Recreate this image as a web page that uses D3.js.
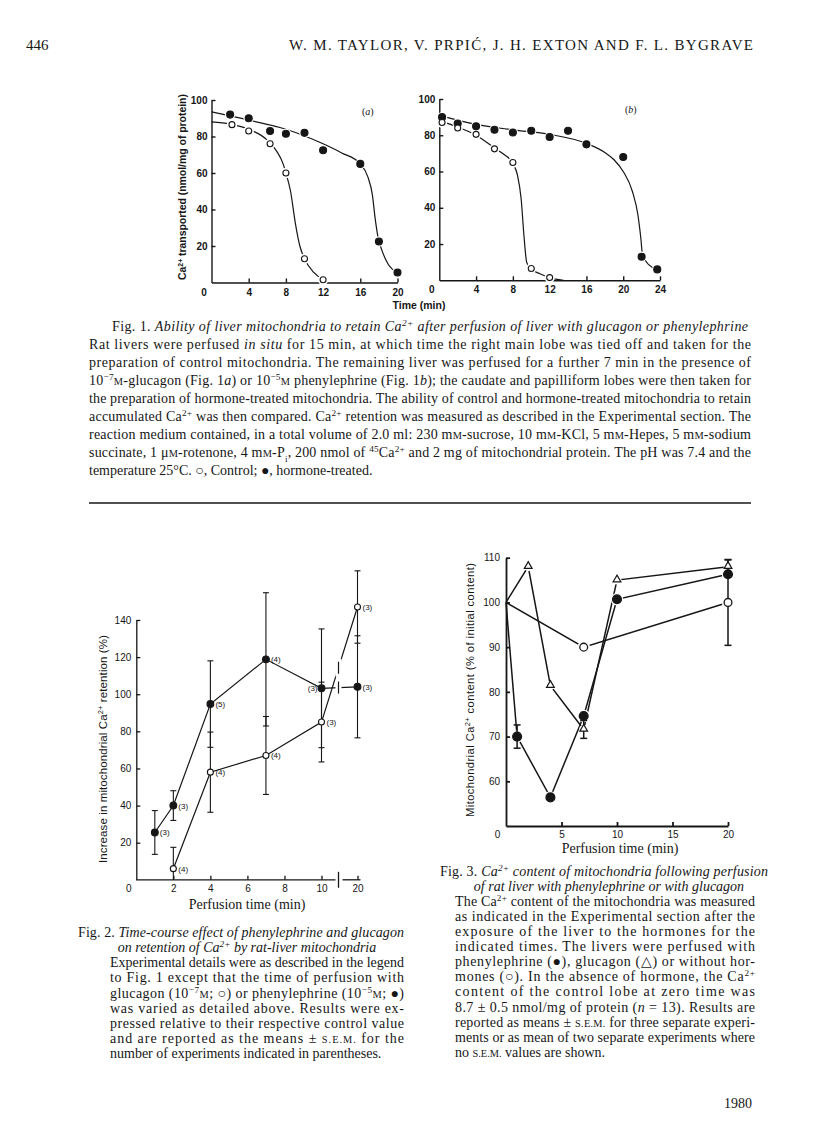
<!DOCTYPE html>
<html>
<head>
<meta charset="utf-8">
<script src="https://cdn.jsdelivr.net/npm/d3@7"></script>
<style>
  body { margin: 0; background: #fff; }
  svg { display: block; }
</style>
</head>
<body>
<svg id="page" width="816" height="1145"></svg>
<script>
// ---------- data ----------
// Fig. 1a (glucagon)
var fig1aHormoneT = [2, 4, 6.3, 8, 10, 12, 16, 18, 20];
var fig1aHormoneV = [92, 90, 83, 81.5, 82, 72.5, 65, 22.5, 5.5];
var fig1aControlT = [2.2, 4, 6.3, 8, 10, 12];
var fig1aControlV = [86.5, 83, 76, 60, 13, 1.5];
// hand-drawn fitted curves in fig 1a
var fig1aHormoneCurveT = [0, 4, 8, 12, 14, 16, 16.8, 17.3, 17.6, 17.9, 18.3, 19, 20];
var fig1aHormoneCurveV = [93.5, 89, 84, 76, 71, 65, 58, 48, 35, 25, 18, 10, 5.5];
var fig1aControlCurveT = [0, 2, 4, 6, 7, 7.7, 8, 8.5, 9, 9.5, 10, 11, 12];
var fig1aControlCurveV = [88, 86.8, 84, 78, 72, 65, 60, 50, 33, 20, 13, 5.5, 1.5];

// Fig. 1b (phenylephrine)
var fig1bHormoneT = [0.3, 2, 4, 6, 8, 10, 12, 14, 16, 20, 22, 23.7];
var fig1bHormoneV = [90, 86.5, 85, 83, 81.5, 82.5, 79, 82.5, 75, 68, 13, 6];
var fig1bControlT = [0.3, 2, 4, 6, 8, 10, 12];
var fig1bControlV = [87, 84, 80.5, 72.5, 65, 6.5, 1.5];
var fig1bHormoneCurveT = [0, 4, 8, 12, 16, 18, 19, 20, 21, 21.6, 21.9, 22.1, 22.8, 23.7];
var fig1bHormoneCurveV = [91, 86, 83, 80.5, 75.5, 70.5, 66.5, 60, 49, 36, 24, 14, 8.5, 6];
var fig1bControlCurveT = [0.3, 2, 4, 6, 7, 8, 8.5, 8.9, 9.2, 9.5, 9.9, 11, 12, 13.5];
var fig1bControlCurveV = [87.5, 84.5, 80, 73, 69.5, 64.5, 58, 45, 25, 10, 6.5, 3.5, 1.5, 0];

var fig1YTicks = [20, 40, 60, 80, 100];
var fig1aXTicks = [0, 4, 8, 12, 16, 20];
var fig1bXTicks = [0, 4, 8, 12, 16, 20, 24];

// Fig. 2
var fig2PheT = [1, 2, 4, 7, 10, 20];
var fig2PheV = [25.5, 40, 94.7, 118.8, 103.2, 104];
var fig2PheSem = [11.8, 8, 23.3, 35.9, 32, 27.5];
var fig2PheN = ["(3)", "(3)", "(5)", "(4)", "(3)", "(3)"];
var fig2GluT = [2, 4, 7, 10, 20];
var fig2GluV = [6, 58, 67, 85, 147];
var fig2GluSem = [11.5, 21.6, 21, 21.5, 19.5];
var fig2GluN = ["(4)", "(4)", "(4)", "(3)", "(3)"];
var fig2XTicks = [0, 2, 4, 6, 8, 10, 20];
var fig2YTicks = [20, 40, 60, 80, 100, 120, 140];

// Fig. 3
var fig3PheT = [0, 1, 4, 7, 10, 20];
var fig3PheV = [100, 70, 56.4, 74.6, 100.7, 106.3];
var fig3PheSem = [0, 2.6, 0, 0, 0, 0];
var fig3GluT = [0, 2, 4, 7, 10, 20];
var fig3GluV = [100, 108, 81.4, 71.6, 105, 108];
var fig3GluSem = [0, 0, 0, 2, 0, 1.5];
var fig3CtlT = [0, 7, 20];
var fig3CtlV = [100, 90, 100];
var fig3CtlSem = [0, 0, 9.6];
var fig3XTicks = [0, 5, 10, 15, 20];
var fig3YTicks = [60, 70, 80, 90, 100, 110];

// ---------- page text ----------
// markup: _italic_  ^superscript^  ~subscript~  |small caps|
var headerText = "W. M. TAYLOR, V. PRPIĆ, J. H. EXTON AND F. L. BYGRAVE";
var fig1Caption = [
  "Fig. 1. _Ability of liver mitochondria to retain Ca^2+^ after perfusion of liver with glucagon or phenylephrine_",
  "Rat livers were perfused _in situ_ for 15 min, at which time the right main lobe was tied off and taken for the",
  "preparation of control mitochondria. The remaining liver was perfused for a further 7 min in the presence of",
  "10^−7^|M|-glucagon (Fig. 1_a_) or 10^−5^|M| phenylephrine (Fig. 1_b_); the caudate and papilliform lobes were then taken for",
  "the preparation of hormone-treated mitochondria. The ability of control and hormone-treated mitochondria to retain",
  "accumulated Ca^2+^ was then compared. Ca^2+^ retention was measured as described in the Experimental section. The",
  "reaction medium contained, in a total volume of 2.0 ml: 230 m|M|-sucrose, 10 m|M|-KCl, 5 m|M|-Hepes, 5 m|M|-sodium",
  "succinate, 1 μ|M|-rotenone, 4 m|M|-P~i~, 200 nmol of ^45^Ca^2+^ and 2 mg of mitochondrial protein. The pH was 7.4 and the",
  "temperature 25°C. ○, Control; ●, hormone-treated."
];
var fig2Title = ["Fig. 2. _Time-course effect of phenylephrine and glucagon_",
  "_on retention of Ca^2+^ by rat-liver mitochondria_"];
var fig2Body = [
  "Experimental details were as described in the legend",
  "to Fig. 1 except that the time of perfusion with",
  "glucagon (10^−7^|M|; ○) or phenylephrine (10^−5^|M|; ●)",
  "was varied as detailed above. Results were ex-",
  "pressed relative to their respective control value",
  "and are reported as the means ± |S.E.M.| for the",
  "number of experiments indicated in parentheses."
];
var fig3Title = ["Fig. 3. _Ca^2+^ content of mitochondria following perfusion_",
  "_of rat liver with phenylephrine or with glucagon_"];
var fig3Body = [
  "The Ca^2+^ content of the mitochondria was measured",
  "as indicated in the Experimental section after the",
  "exposure of the liver to the hormones for the",
  "indicated times. The livers were perfused with",
  "phenylephrine (●), glucagon (△) or without hor-",
  "mones (○). In the absence of hormone, the Ca^2+^",
  "content of the control lobe at zero time was",
  "8.7 ± 0.5 nmol/mg of protein (_n_ = 13). Results are",
  "reported as means ± |S.E.M.| for three separate experi-",
  "ments or as mean of two separate experiments where",
  "no |S.E.M.| values are shown."
];

// ---------- helpers ----------
var SERIF = "'Liberation Serif','Times New Roman',serif";
var SANS = "'Liberation Sans',Arial,Helvetica,sans-serif";
var INK = "#161616";
var svg = d3.select("#page");

function rich(parent, str, x, y, size, opts) {
  opts = opts || {};
  var t = parent.append("text")
    .attr("x", x).attr("y", y)
    .attr("fill", INK)
    .style("font-family", opts.family || SERIF)
    .style("font-size", size + "px");
  if (opts.weight) t.style("font-weight", opts.weight);
  if (opts.anchor) t.attr("text-anchor", opts.anchor);
  if (opts.width) t.attr("textLength", opts.width).attr("lengthAdjust", "spacing");
  if (opts.transform) t.attr("transform", opts.transform);
  var st = { i: false, sup: false, sub: false, sc: false };
  var buf = "";
  function flush() {
    if (!buf) return;
    var s = t.append("tspan").text(buf);
    if (st.i) s.style("font-style", "italic");
    if (st.sup) s.attr("baseline-shift", "super").style("font-size", (size * 0.66) + "px");
    if (st.sub) s.attr("baseline-shift", "sub").style("font-size", (size * 0.66) + "px");
    if (st.sc) s.style("font-size", (size * 0.74) + "px");
    buf = "";
  }
  var keys = { "_": "i", "^": "sup", "~": "sub", "|": "sc" };
  for (var ch of str) {
    if (keys[ch]) { flush(); st[keys[ch]] = !st[keys[ch]]; }
    else buf += ch;
  }
  flush();
  return t;
}

function styleAxis(a, size, weight, width) {
  a.select(".domain").attr("stroke", INK).attr("stroke-width", width);
  a.selectAll(".tick line").attr("stroke", INK).attr("stroke-width", width);
  a.selectAll(".tick text")
    .attr("fill", INK)
    .style("font-family", SANS)
    .style("font-size", size + "px")
    .style("font-weight", weight);
}

function zip(ts, vs) { return ts.map(function(t, i) { return [t, vs[i]]; }); }

// ---------- header ----------
rich(svg, "446", 26, 50, 15);
rich(svg, headerText, 289, 50, 15, { width: 464 });
rich(svg, "1980", 724, 1108, 14);

// ---------- Fig. 1 ----------
function drawFig1(p) {
  var x = d3.scaleLinear().domain([0, p.xMax]).range(p.xRange);
  var y = d3.scaleLinear().domain([0, 100]).range(p.yRange);
  var g = svg.append("g");

  var xa = g.append("g").attr("transform", "translate(0," + p.yRange[0] + ")")
    .call(d3.axisBottom(x).tickValues(p.xTicks).tickSizeInner(-4).tickSizeOuter(0).tickPadding(6));
  styleAxis(xa, 10, 700, 1.4);
  xa.selectAll(".tick").filter(function(d) { return d === 0; }).select("line").remove();
  xa.selectAll(".tick").filter(function(d) { return d === 0; }).select("text").attr("dx", -8);

  var ya = g.append("g").attr("transform", "translate(" + p.xRange[0] + ",0)")
    .call(d3.axisLeft(y).tickValues(fig1YTicks).tickSizeInner(-4).tickSizeOuter(0).tickPadding(4));
  styleAxis(ya, 10, 700, 1.4);

  var line = d3.line().x(function(d) { return x(d[0]); }).y(function(d) { return y(d[1]); })
    .curve(d3.curveMonotoneX);
  [p.hCurve, p.cCurve].forEach(function(c) {
    g.append("path").datum(c).attr("d", line)
      .attr("fill", "none").attr("stroke", INK).attr("stroke-width", 1.2);
  });

  var pts = p.hPts.map(function(d) { return { d: d, f: true }; })
    .concat(p.cPts.map(function(d) { return { d: d, f: false }; }));
  g.selectAll(null).data(pts).enter().append("circle")
    .attr("cx", function(o) { return x(o.d[0]); }).attr("cy", function(o) { return y(o.d[1]); })
    .attr("r", 5.2).attr("fill", "#fff");
  g.selectAll(null).data(pts).enter().append("circle")
    .attr("cx", function(o) { return x(o.d[0]); }).attr("cy", function(o) { return y(o.d[1]); })
    .attr("r", function(o) { return o.f ? 3.5 : 3; })
    .attr("fill", function(o) { return o.f ? INK : "#fff"; })
    .attr("stroke", INK).attr("stroke-width", 1.1);

  rich(g, p.tag, p.tagX, p.tagY, 10, { family: SERIF });
}

drawFig1({
  xMax: 20, xRange: [211.5, 397.5], yRange: [282.5, 100], xTicks: fig1aXTicks,
  hPts: zip(fig1aHormoneT, fig1aHormoneV), cPts: zip(fig1aControlT, fig1aControlV),
  hCurve: zip(fig1aHormoneCurveT, fig1aHormoneCurveV), cCurve: zip(fig1aControlCurveT, fig1aControlCurveV),
  tag: "(_a_)", tagX: 362, tagY: 115
});
drawFig1({
  xMax: 24, xRange: [439.3, 660], yRange: [280.3, 99], xTicks: fig1bXTicks,
  hPts: zip(fig1bHormoneT, fig1bHormoneV), cPts: zip(fig1bControlT, fig1bControlV),
  hCurve: zip(fig1bHormoneCurveT, fig1bHormoneCurveV), cCurve: zip(fig1bControlCurveT, fig1bControlCurveV),
  tag: "(_b_)", tagX: 625, tagY: 113
});
rich(svg, "Ca^2+^ transported (nmol/mg of protein)", 0, 0, 10.5,
  { family: SANS, weight: 700, anchor: "middle", width: 186, transform: "translate(186,187) rotate(-90)" });
rich(svg, "Time (min)", 419, 309, 10.5, { family: SANS, weight: 700, anchor: "middle" });

// Fig. 1 caption
fig1Caption.forEach(function(s, i) {
  var y = 331 + i * 18;
  if (i === 0) rich(svg, s, 112, y, 14, { width: 636 });
  else if (i === fig1Caption.length - 1) rich(svg, s, 89, y, 14);
  else rich(svg, s, 89, y, 14, { width: 662 });
});

svg.append("line").attr("x1", 89).attr("x2", 751).attr("y1", 503).attr("y2", 503)
  .attr("stroke", INK).attr("stroke-width", 1.3);

// ---------- Fig. 2 ----------
(function() {
  var x = d3.scaleLinear().domain([0, 10, 20]).range([136.3, 321.5, 357.5]);
  var y = d3.scaleLinear().domain([0, 140]).range([879.8, 620]);
  var g = svg.append("g");
  var y0 = y(0);

  var xa = g.append("g").attr("transform", "translate(0," + y0 + ")")
    .call(d3.axisBottom(x).tickValues(fig2XTicks).tickSizeInner(-4).tickSizeOuter(0).tickPadding(5));
  styleAxis(xa, 10, 400, 1.3);
  xa.select(".domain").remove();
  xa.selectAll(".tick").filter(function(d) { return d === 0; }).select("line").remove();
  xa.selectAll(".tick").filter(function(d) { return d === 0; }).select("text").attr("dx", -8);
  var bx = x(10) + 17;
  g.append("line").attr("x1", x(0)).attr("x2", bx - 3).attr("y1", y0).attr("y2", y0)
    .attr("stroke", INK).attr("stroke-width", 1.3);
  g.append("line").attr("x1", bx + 4).attr("x2", x(20) + 3).attr("y1", y0).attr("y2", y0)
    .attr("stroke", INK).attr("stroke-width", 1.3);
  g.append("line").attr("x1", bx).attr("x2", bx).attr("y1", y0 - 8).attr("y2", y0 + 8)
    .attr("stroke", INK).attr("stroke-width", 1.3);

  var ya = g.append("g").attr("transform", "translate(" + x(0) + ",0)")
    .call(d3.axisLeft(y).tickValues(fig2YTicks).tickSizeInner(-4).tickSizeOuter(0).tickPadding(5));
  styleAxis(ya, 10, 400, 1.3);

  var series = [
    { t: fig2PheT, v: fig2PheV, e: fig2PheSem, n: fig2PheN, f: true },
    { t: fig2GluT, v: fig2GluV, e: fig2GluSem, n: fig2GluN, f: false }
  ];
  var line = d3.line().x(function(d) { return x(d[0]); }).y(function(d) { return y(d[1]); });

  series.forEach(function(s) {
    var pts = zip(s.t, s.v);
    g.append("path").datum(pts).attr("d", line)
      .attr("fill", "none").attr("stroke", INK).attr("stroke-width", 1.2);
    // scale-break mark on the segment 10 -> 20
    var a = pts[pts.length - 2], b = pts[pts.length - 1];
    var k = (bx - x(a[0])) / (x(b[0]) - x(a[0]));
    var by = y(a[1]) + k * (y(b[1]) - y(a[1]));
    g.append("rect").attr("x", bx - 3).attr("y", by - 9).attr("width", 6).attr("height", 18).attr("fill", "#fff");
    g.append("line").attr("x1", bx).attr("x2", bx).attr("y1", by - 6).attr("y2", by + 6)
      .attr("stroke", INK).attr("stroke-width", 1.2);

    s.t.forEach(function(t, i) {
      var top = y(s.v[i] + s.e[i]), bot = y(Math.max(0, s.v[i] - s.e[i]));
      g.append("line").attr("x1", x(t)).attr("x2", x(t)).attr("y1", top).attr("y2", bot)
        .attr("stroke", INK).attr("stroke-width", 1.1);
      g.append("line").attr("x1", x(t) - 3).attr("x2", x(t) + 3).attr("y1", top).attr("y2", top)
        .attr("stroke", INK).attr("stroke-width", 1.1);
      if (s.v[i] - s.e[i] > 0)
        g.append("line").attr("x1", x(t) - 3).attr("x2", x(t) + 3).attr("y1", bot).attr("y2", bot)
          .attr("stroke", INK).attr("stroke-width", 1.1);
    });
  });
  series.forEach(function(s) {
    s.t.forEach(function(t, i) {
      g.append("circle").attr("cx", x(t)).attr("cy", y(s.v[i])).attr("r", s.f ? 3.4 : 3)
        .attr("fill", s.f ? INK : "#fff").attr("stroke", INK).attr("stroke-width", 1.1);
      var left = s.f && t === 10;
      g.append("text").attr("x", left ? x(t) - 4 : x(t) + 5).attr("y", y(s.v[i]) + 3)
        .attr("text-anchor", left ? "end" : "start")
        .attr("fill", INK).style("font-family", SANS).style("font-size", "8px").text(s.n[i]);
    });
  });

  rich(svg, "Increase in mitochondrial Ca^2+^ retention (%)", 0, 0, 11.5,
    { family: SANS, anchor: "middle", width: 228, transform: "translate(107,749) rotate(-90)" });
  rich(svg, "Perfusion time (min)", 247, 909, 14, { anchor: "middle" });
})();

// Fig. 2 caption
rich(svg, fig2Title[0], 78, 937, 14, { width: 326 });
rich(svg, fig2Title[1], 247, 952, 14, { anchor: "middle" });
fig2Body.forEach(function(s, i) {
  var y = 967.3 + i * 15.1;
  rich(svg, s, 110, y, 14, i === fig2Body.length - 1 ? {} : { width: 294 });
});

// ---------- Fig. 3 ----------
(function() {
  var x = d3.scaleLinear().domain([0, 20]).range([506, 728]);
  var y = d3.scaleLinear().domain([50, 110]).range([826, 557.7]);
  var g = svg.append("g");

  var xa = g.append("g").attr("transform", "translate(0," + y(50) + ")")
    .call(d3.axisBottom(x).tickValues(fig3XTicks).tickSizeInner(-4).tickSizeOuter(0).tickPadding(5));
  styleAxis(xa, 10, 400, 1.8);
  xa.selectAll(".tick").filter(function(d) { return d === 0; }).select("line").remove();
  xa.selectAll(".tick").filter(function(d) { return d === 0; }).select("text").attr("dx", -9);

  var ya = g.append("g").attr("transform", "translate(" + x(0) + ",0)")
    .call(d3.axisLeft(y).tickValues(fig3YTicks).tickSizeInner(-4).tickSizeOuter(0).tickPadding(6));
  styleAxis(ya, 10, 400, 1.8);

  var series = [
    { t: fig3CtlT, v: fig3CtlV, e: fig3CtlSem, m: "open" },
    { t: fig3GluT, v: fig3GluV, e: fig3GluSem, m: "tri" },
    { t: fig3PheT, v: fig3PheV, e: fig3PheSem, m: "fill" }
  ];
  var line = d3.line().x(function(d) { return x(d[0]); }).y(function(d) { return y(d[1]); });
  series.forEach(function(s) {
    g.append("path").datum(zip(s.t, s.v)).attr("d", line)
      .attr("fill", "none").attr("stroke", INK).attr("stroke-width", 1.5);
  });
  // white halos so lines stop short of the symbols
  series.forEach(function(s) {
    s.t.forEach(function(t, i) {
      if (t === 0) return;
      g.append("circle").attr("cx", x(t)).attr("cy", y(s.v[i])).attr("r", s.m === "tri" ? 4.5 : 6.2).attr("fill", "#fff");
    });
  });
  series.forEach(function(s) {
    s.t.forEach(function(t, i) {
      if (!s.e[i]) return;
      var top = y(s.v[i] + s.e[i]), bot = y(s.v[i] - s.e[i]);
      var onlyTop = s.m === "tri" && t === 20;
      g.append("line").attr("x1", x(t)).attr("x2", x(t)).attr("y1", top).attr("y2", onlyTop ? y(s.v[i]) : bot)
        .attr("stroke", INK).attr("stroke-width", 1.5);
      g.append("line").attr("x1", x(t) - 3.5).attr("x2", x(t) + 3.5).attr("y1", top).attr("y2", top)
        .attr("stroke", INK).attr("stroke-width", 1.5);
      if (!onlyTop)
        g.append("line").attr("x1", x(t) - 3.5).attr("x2", x(t) + 3.5).attr("y1", bot).attr("y2", bot)
          .attr("stroke", INK).attr("stroke-width", 1.5);
    });
  });
  var tri = d3.symbol().type(d3.symbolTriangle).size(26);
  series.forEach(function(s) {
    s.t.forEach(function(t, i) {
      if (t === 0) return;
      if (s.m === "tri") {
        g.append("path").attr("d", tri).attr("transform", "translate(" + x(t) + "," + (y(s.v[i]) - 0.5) + ")")
          .attr("fill", "#fff").attr("stroke", INK).attr("stroke-width", 1.2);
      } else {
        g.append("circle").attr("cx", x(t)).attr("cy", y(s.v[i])).attr("r", s.m === "fill" ? 4.4 : 3.9)
          .attr("fill", s.m === "fill" ? INK : "#fff").attr("stroke", INK).attr("stroke-width", 1.3);
      }
    });
  });

  rich(svg, "Mitochondrial Ca^2+^ content (% of initial content)", 0, 0, 11.2,
    { family: SANS, anchor: "middle", width: 254, transform: "translate(474,690) rotate(-90)" });
  rich(svg, "Perfusion time (min)", 620, 853, 14, { anchor: "middle" });
})();

// Fig. 3 caption
rich(svg, fig3Title[0], 440, 875.5, 14, { width: 328 });
rich(svg, fig3Title[1], 609, 890.6, 14, { anchor: "middle" });
fig3Body.forEach(function(s, i) {
  var y = 905.8 + i * 15.1;
  rich(svg, s, 455, y, 14, i === fig3Body.length - 1 ? {} : { width: 300 });
});
</script>
</body>
</html>
